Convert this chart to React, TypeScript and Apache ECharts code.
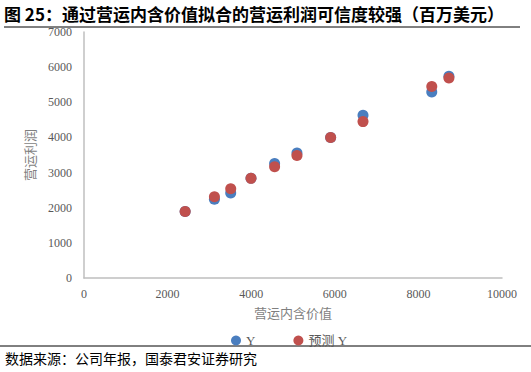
import React, { useEffect, useRef } from "react";
import * as echarts from "echarts";

const embedded = [2420, 3120, 3510, 3995, 4560, 5095, 5900, 6675, 8320, 8730];
const actualY = [1890, 2240, 2420, 2840, 3260, 3560, 4000, 4630, 5290, 5740];
const predictedY = [1890, 2310, 2540, 2835, 3165, 3485, 3995, 4450, 5450, 5690];
const title = "图 25：通过营运内含价值拟合的营运利润可信度较强（百万美元）";
const source = "数据来源：公司年报，国泰君安证券研究";
const seriesNames = ["Y", "预测 Y"];

export default function App() {
  const ref = useRef<HTMLDivElement>(null);
  useEffect(() => {
    const chart = echarts.init(ref.current!, undefined, { renderer: "svg" });
    const serif = "'Liberation Serif', 'Noto Sans CJK SC', serif";
    const cjk = "'Noto Sans CJK SC', serif";
    chart.setOption({
      animation: false,
      backgroundColor: "#ffffff",
      title: {
        text: title,
        left: 4,
        top: 3,
        padding: 0,
        textStyle: { fontSize: 17, fontWeight: "bold", color: "#000", fontFamily: cjk, lineHeight: 20 },
      },
      graphic: [
        { type: "line", shape: { x1: 4, y1: 27, x2: 520, y2: 27 }, style: { stroke: "#000", lineWidth: 1 } },
        { type: "line", shape: { x1: 0, y1: 346, x2: 531, y2: 346 }, style: { stroke: "#000", lineWidth: 1 } },
        {
          type: "text",
          left: 5,
          top: 351,
          style: { text: source, fill: "#000", font: "14px 'Noto Sans CJK SC', serif" },
        },
      ],
      legend: {
        data: seriesNames,
        top: 334,
        left: 231,
        padding: 0,
        icon: "circle",
        itemWidth: 10,
        itemHeight: 10,
        itemGap: 38,
        textStyle: { color: "#595959", fontSize: 13, lineHeight: 12, fontFamily: serif },
      },
      grid: { left: 84, right: 29, top: 32, bottom: 94 },
      xAxis: {
        type: "value",
        min: 0,
        max: 10000,
        interval: 2000,
        name: "营运内含价值",
        nameLocation: "middle",
        nameGap: 28,
        nameTextStyle: { color: "#7f7f7f", fontSize: 13, fontFamily: cjk },
        axisLine: { show: true, lineStyle: { color: "#bfbfbf", width: 1.5 } },
        axisTick: { show: false },
        splitLine: { show: false },
        axisLabel: { color: "#595959", fontSize: 12, fontFamily: serif, margin: 10, formatter: (v: number) => String(v) },
      },
      yAxis: {
        type: "value",
        min: 0,
        max: 7000,
        interval: 1000,
        name: "营运利润",
        nameLocation: "middle",
        nameGap: 48,
        nameRotate: 90,
        nameTextStyle: { color: "#7f7f7f", fontSize: 13, fontFamily: cjk },
        axisLine: { show: true, lineStyle: { color: "#bfbfbf", width: 1.5 } },
        axisTick: { show: false },
        splitLine: { show: false },
        axisLabel: { color: "#595959", fontSize: 12, fontFamily: serif, margin: 12, formatter: (v: number) => String(v) },
      },
      series: [
        {
          name: seriesNames[0],
          type: "scatter",
          symbolSize: 11,
          itemStyle: { color: "#4a7ebf", opacity: 1 },
          data: embedded.map((x, i) => [x, actualY[i]]),
        },
        {
          name: seriesNames[1],
          type: "scatter",
          symbolSize: 11,
          itemStyle: { color: "#c0504d", opacity: 1 },
          data: embedded.map((x, i) => [x, predictedY[i]]),
        },
      ],
    });
    return () => chart.dispose();
  }, []);
  return <div ref={ref} style={{ position: "absolute", left: 0, top: 0, width: 531, height: 372 }} />;
}
